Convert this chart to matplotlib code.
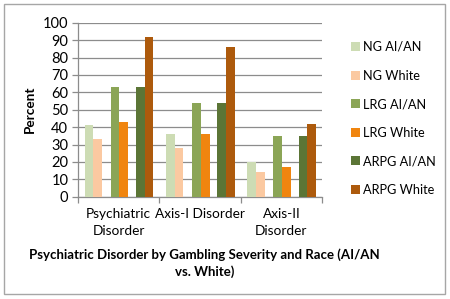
import numpy as np
import matplotlib
matplotlib.use("Agg")
import matplotlib.pyplot as plt
from matplotlib.patches import Rectangle

plt.rcParams['font.family'] = ['Lato', 'DejaVu Sans']

# datos
categorias = ["Psychiatric\nDisorder", "Axis-I Disorder", "Axis-II\nDisorder"]
series = ["NG AI/AN", "NG White", "LRG AI/AN", "LRG White", "ARPG AI/AN", "ARPG White"]
ng_aian = [41, 36, 20]
ng_white = [33, 28, 14]
lrg_aian = [63, 54, 35]
lrg_white = [43, 36, 17]
arpg_aian = [63, 54, 35]
arpg_white = [92, 86, 42]
colores = ["#cddcb4", "#fbc9a1", "#8ba556", "#f0850f", "#5b7536", "#ad5a0c"]

valores = [ng_aian, ng_white, lrg_aian, lrg_white, arpg_aian, arpg_white]

fig = plt.figure(figsize=(4.5, 2.99), dpi=100)
fig.patches.append(Rectangle((0.009, 0.017), 0.98, 0.97, transform=fig.transFigure,
                             fill=False, edgecolor="#a6a6a6", linewidth=1))
ax = fig.add_axes([0.1733, 0.342, 0.5423, 0.582])

x = np.arange(len(categorias))
w = 0.107
offsets = [-0.31 - w / 2, -0.31 + w / 2, -w / 2 + 0.01, w / 2 + 0.01, 0.32 - w / 2, 0.32 + w / 2]
for vals, off, col, name in zip(valores, offsets, colores, series):
    ax.bar(x + off, vals, w, color=col, label=name, zorder=3)

ax.set_xlim(-0.5, 2.5)
ax.set_ylim(0, 100)
ax.set_yticks(range(0, 101, 10))
ax.yaxis.grid(True, color="#8c8c8c", linewidth=0.9, zorder=0)
ax.set_xticks([-0.5, 0.5, 1.5, 2.5])
ax.set_xticklabels([])
ax.tick_params(axis="x", length=4, color="#8c8c8c", width=0.9)
ax.tick_params(axis="y", length=4, color="#8c8c8c", width=0.9, labelsize=10.5, pad=3)
for c, lab in zip(x, categorias):
    ax.text(c, -6.5, lab, ha="center", va="top", fontsize=9.8, linespacing=1.5)
for s in ["top", "right"]:
    ax.spines[s].set_visible(False)
for s in ["left", "bottom"]:
    ax.spines[s].set_color("#8c8c8c")
    ax.spines[s].set_linewidth(0.9)

ax.set_ylabel("Percent", fontsize=9.8, fontweight="bold", labelpad=5)

leg = ax.legend(loc="center left", bbox_to_anchor=(1.07, 0.45), frameon=False,
                fontsize=9.2, handlelength=0.7, handleheight=0.7, handletextpad=0.3,
                labelspacing=1.3)

fig.text(0.455, 0.12, "Psychiatric Disorder by Gambling Severity and Race (AI/AN\nvs. White)",
         ha="center", va="center", fontsize=9.5, fontweight="bold", linespacing=1.45)

fig.savefig("out.png", dpi=100)
